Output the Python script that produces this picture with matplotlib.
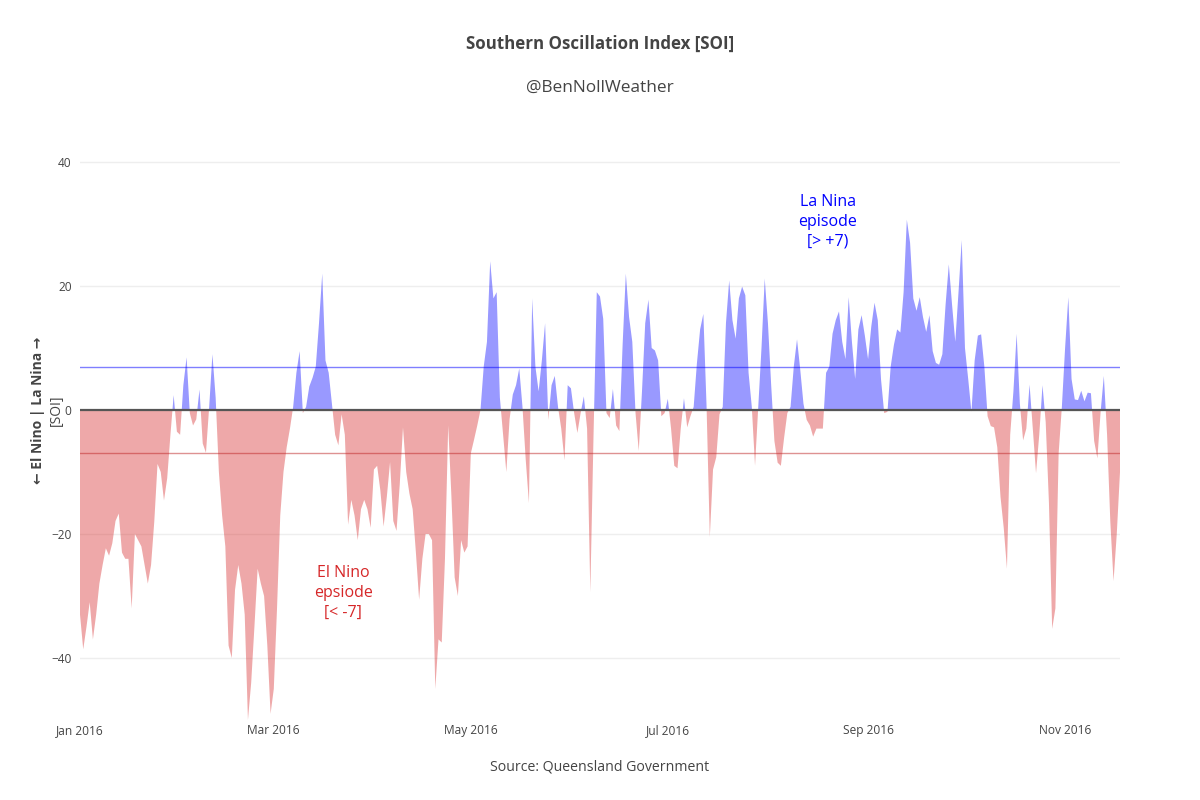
import numpy as np
import pandas as pd
import matplotlib
matplotlib.use("Agg")
import matplotlib.pyplot as plt

# Daily SOI values, 2016
soi_jan = [-33, -38.6, -35, -31, -37, -33, -28, -25, -22.3, -23.5,
           -21.5, -17.9, -16.7, -23, -24, -24, -32, -20, -21, -22,
           -25, -28, -25, -18, -8.7, -10, -14.6, -11, -4, 2.4, -3.5]
soi_feb = [-4, 4, 8.5, -0.5, -2.5, -1.5, 3.3, -5.4, -6.9, 0.5,
           9, 2, -10, -17, -22, -38, -40, -29, -25, -28,
           -33, -50, -44, -35, -25.6, -28, -30, -38, -49]
soi_mar = [-45, -32, -17, -10, -6, -3, 0.5, 6, 9.5, -0.5,
           0.5, 3.8, 5.2, 7, 14, 22, 8, 6, 1, -4,
           -5.7, -0.7, -4, -18.5, -14.5, -17, -21, -16, -14.5, -16, -19]
soi_apr = [-9.6, -9, -13, -18.8, -14, -8.4, -17.9, -19.5, -12, -2.8,
           -10, -13.5, -16, -23, -30.6, -24, -20, -20, -21, -45,
           -37, -37.5, -24, -2.5, -14, -27, -30, -21, -23, -22]
soi_may = [-7, -4.8, -2.5, 0, 7, 11, 24, 18, 19, 2,
           -4, -10, -1.5, 2.5, 4, 6.7, 0.5, -8, -15, 18,
           7, 3, 8, 14, -1.6, 4, 5.5, 0.5, -3, -8.1, 4]
soi_jun = [3.5, -0.5, -3.7, -0.5, 2.2, -3, -29.4, -4, 19, 18.3,
           14.7, -0.5, -1.3, 3.4, -2.5, -3.4, 10.5, 22, 15, 11,
           -0.5, -6.6, 3, 14, 17.8, 10, 9.6, 8, -1, -0.5]
soi_jul = [1.8, -3, -9, -9.4, -3, 1.9, -2.8, -1, 0.5, 7.5,
           13, 15.5, 0.5, -20.5, -9.6, -7.6, -0.7, 0.5, 14, 20.9,
           14.5, 11.5, 18, 19.9, 18.5, 6, 0.5, -9, 0.5, 10, 21.2]
soi_aug = [14, 4, -5, -8.5, -9, -4.5, -0.5, 0.5, 7, 11.4,
           6.5, 1, -1.6, -2.5, -4.3, -3, -3, -3, 6, 7,
           12.3, 14.5, 15.9, 11, 8.2, 18.2, 11, 5, 13, 15.3, 12]
soi_sep = [8.2, 13.5, 17.3, 14.5, 5, -0.5, -0.3, 7, 10.5, 13,
           12.5, 19, 30.7, 27, 18, 16, 18.2, 15, 12.6, 15.3,
           9.5, 7.6, 7.3, 9, 17, 23.5, 17, 11, 19, 27.4]
soi_oct = [10, 5, -0.3, 8, 12, 12.2, 7, -1, -2.6, -2.8,
           -6, -14, -19, -25.6, -4, 3, 12.3, 1, -4.9, -3,
           4.1, -3, -10.2, -4, 4, -2, -15, -35.3, -32, -7, 0.5]
soi_nov = [10, 18.2, 5, 1.7, 1.6, 3.1, 1.4, 2.8, 2.7, -5,
           -7.8, -0.3, 5.5, -4, -18, -27.6, -20, -10]

soi = np.array(soi_jan + soi_feb + soi_mar + soi_apr + soi_may + soi_jun
               + soi_jul + soi_aug + soi_sep + soi_oct + soi_nov, dtype=float)
dates = pd.date_range("2016-01-01", periods=len(soi), freq="D")

tick_dates = pd.to_datetime(["2016-01-01", "2016-03-01", "2016-05-01",
                             "2016-07-01", "2016-09-01", "2016-11-01"])
tick_labels = ["Jan 2016", "Mar 2016", "May 2016", "Jul 2016", "Sep 2016", "Nov 2016"]
y_ticks = [-40, -20, 0, 20, 40]
la_nina_threshold = 7
el_nino_threshold = -7

plt.rcParams["font.family"] = ["Open Sans", "DejaVu Sans"]
TXT = "#444444"

fig = plt.figure(figsize=(12, 8), dpi=100)
ax = fig.add_axes([80 / 1200, 80 / 800, 1040 / 1200, 620 / 800])

blue_fill = (0, 0, 1, 0.4)
red_fill = (214 / 255, 39 / 255, 40 / 255, 0.4)

ax.fill_between(dates, soi, 0, where=soi >= 0, interpolate=True,
                color=blue_fill, linewidth=0, zorder=2)
ax.fill_between(dates, soi, 0, where=soi <= 0, interpolate=True,
                color=red_fill, linewidth=0, zorder=2)

# threshold lines
ax.axhline(la_nina_threshold, color=(0, 0, 1, 0.5), linewidth=1, zorder=3)
ax.axhline(el_nino_threshold, color=(0.75, 0.15, 0.15, 0.5), linewidth=1, zorder=3)
ax.axhline(0, color="#555555", linewidth=1.6, zorder=3)

ax.set_xlim(dates[0], dates[-1])
ax.set_ylim(-50, 50)
ax.set_yticks(y_ticks)
ax.set_yticklabels(["\u221240", "\u221220", "0", "20", "40"])
ax.set_xticks(tick_dates)
ax.set_xticklabels(tick_labels)
ax.tick_params(axis="both", length=0, labelsize=8.6, colors=TXT)
ax.tick_params(axis="y", pad=6)
ax.tick_params(axis="x", pad=3)
ax.grid(axis="y", color="#eeeeee", linewidth=1, zorder=0)
for s in ax.spines.values():
    s.set_visible(False)
ax.set_facecolor("white")

# annotations
ax.text(pd.Timestamp("2016-08-19 12:00"), 30.3, "La Nina\nepisode\n[> +7)",
        color="#0000ff", fontsize=11.5, ha="center", va="center", linespacing=1.32)
ax.text(pd.Timestamp("2016-03-22 12:00"), -29.5, "El Nino\nepsiode\n[< -7]",
        color="#d62728", fontsize=11.5, ha="center", va="center", linespacing=1.32)

# titles
fig.text(0.5, 1 - 44 / 800, "Southern Oscillation Index [SOI]", ha="center", va="center",
         fontsize=12.2, fontweight="bold", color=TXT)
fig.text(0.5, 1 - 88 / 800, "@BenNollWeather", ha="center", va="center",
         fontsize=12.4, color=TXT)
fig.text(0.5, 1 - 767 / 800, "Source: Queensland Government", ha="center", va="center",
         fontsize=10.2, color=TXT)
fig.text(38 / 1200, 1 - 410 / 800, "\u2190 El Nino | La Nina \u2192", rotation=90,
         ha="center", va="center", fontsize=10, fontweight="bold", color=TXT)
fig.text(56 / 1200, 1 - 410 / 800, "[SOI]", rotation=90,
         ha="center", va="center", fontsize=10, color=TXT)

fig.savefig("out.png", dpi=100)
